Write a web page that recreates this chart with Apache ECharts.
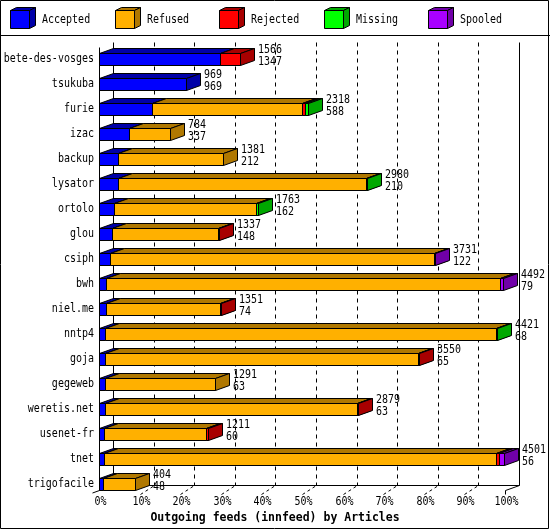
<!DOCTYPE html>
<html><head><meta charset="utf-8">
<script src="https://cdn.jsdelivr.net/npm/echarts@6/dist/echarts.min.js"></script>
<style>html,body{margin:0;padding:0;background:#fff}#c{width:550px;height:530px}</style>
</head><body><div id="c"></div>
<script>
const categories = ['bete-des-vosges','tsukuba','furie','izac','backup','lysator','ortolo','glou','csiph','bwh','niel.me','nntp4','goja','gegeweb','weretis.net','usenet-fr','tnet','trigofacile'];
const totals   = [1566, 969, 2318, 784, 1381, 2980, 1763, 1337, 3731, 4492, 1351, 4421, 3550, 1291, 2879, 1211, 4501, 404];
const accepted = [1347, 969,  588, 337,  212,  210,  162,  148,  122,   79,   74,   68,   65,   63,   63,   60,   56,  48];
const refused  = [   0,   0, 1670, 447, 1169, 2752, 1581, 1177, 3599, 4376, 1266, 4338, 3477, 1228, 2808, 1133, 4350, 356];
const rejected = [ 219,   0,   25,   0,    0,    0,    0,   12,    0,    0,   11,    0,    8,    0,    8,   18,   40,   0];
const missing  = [   0,   0,   35,   0,    0,   18,   20,    0,    0,    0,    0,   15,    0,    0,    0,    0,    0,   0];
const spooled  = [   0,   0,    0,   0,    0,    0,    0,    0,   10,   37,    0,    0,    0,    0,    0,    0,   55,   0];
const seriesNames = ['Accepted','Refused','Rejected','Missing','Spooled'];
const tickLabels = ['0%','10%','20%','30%','40%','50%','60%','70%','80%','90%','100%'];
const axisMax = 4510;
const xTitle = 'Outgoing feeds (innfeed) by Articles';

const frontColors = ['#0000ff','#ffb000','#ff0000','#00ff00','#a800ff'];
const darkColors  = ['#0000a8','#b07800','#a80000','#00a800','#7000a8'];
const DX = 14, DY = -5;
const FONT = '"DejaVu Sans Mono", "Liberation Mono", monospace';
const TS = 1.17; // vertical stretch of the narrow bitmap-like font
const px = v => Math.round(v) + 0.5;

const rows = categories.map((c, i) => [i, accepted[i], refused[i], rejected[i], missing[i], spooled[i], totals[i]]);

function txt(text, x, y, align, extra) {
  return Object.assign({type: 'text', x: x, y: y, scaleY: TS,
    style: {text: text, x: 0, y: 0, align: align, verticalAlign: 'middle', font: '10px ' + FONT, fill: '#000', lineHeight: 9.5}}, extra || {});
}

function barBox(api, i) {
  const yc = api.coord([0, i])[1];
  const yt = Math.round(yc - 6) + 0.5;
  return {yc, yt, yb: yt + 12};
}

function renderBar(params, api) {
  const i = api.value(0);
  const vals = [api.value(1), api.value(2), api.value(3), api.value(4), api.value(5)];
  const {yc, yt, yb} = barBox(api, i);
  let cum = 0;
  const children = [];
  const ln = {stroke: '#000', lineWidth: 1};
  const xl = api.coord([0, i])[0];
  children.push(txt(categories[i], Math.round(xl) - 5, yc, 'right'));
  for (let s = 0; s < 5; s++) {
    const v = vals[s];
    if (!v) continue;
    const x0 = px(api.coord([cum, i])[0]);
    cum += v;
    const x1 = px(api.coord([cum, i])[0]);
    children.push({type: 'polygon', shape: {points: [[x0, yt], [x1, yt], [x1, yb], [x0, yb]]}, style: Object.assign({fill: frontColors[s]}, ln)});
    children.push({type: 'polygon', shape: {points: [[x0, yt], [x0 + DX, yt + DY], [x1 + DX, yt + DY], [x1, yt]]}, style: Object.assign({fill: darkColors[s]}, ln)});
    children.push({type: 'polygon', shape: {points: [[x1, yt], [x1 + DX, yt + DY], [x1 + DX, yb + DY], [x1, yb]]}, style: Object.assign({fill: darkColors[s]}, ln)});
  }
  const total = api.value(6), acc = api.value(1);
  const xe = api.coord([total, i])[0];
  children.push(txt(total + '\n' + acc, Math.round(xe) + 18, yc - 3, 'left'));
  return {type: 'group', children};
}

function renderFrame(params, api) {
  const n = categories.length;
  const band = api.size([0, 1])[1];
  const c0 = api.coord([0, 0]);
  const top = Math.round(c0[1] - band / 2) + 0.5;
  const floor = barBox(api, n - 1).yb;
  const xl = px(c0[0]);
  const xr = px(api.coord([axisMax, 0])[0]);
  const ch = [];
  const L = (x1, y1, x2, y2, dash) => ch.push({type: 'line', shape: {x1, y1, x2, y2}, style: {stroke: '#000', lineWidth: 1, lineDash: dash || null}});
  // back walls and floor
  L(xl + DX, top + DY, xl + DX, floor + DY);
  L(xr + DX, top + DY, xr + DX, floor + DY);
  L(xl + DX, floor + DY, xr + DX, floor + DY);
  // dashed grid on back wall + floor ticks + tick labels
  const nt = tickLabels.length - 1;
  for (let k = 0; k <= nt; k++) {
    const xf = px(api.coord([k * axisMax / nt, 0])[0]);
    if (k > 0 && k < nt) L(xf + DX, top + DY, xf + DX, floor + DY, [4, 4]);
    if (k === 0) {
      L(xf - 7, floor + 2.5, xf + DX, floor + DY);
    } else if (k === nt) {
      L(xf, floor, xf + DX, floor + DY);
      L(xf, floor, xf, floor + 4);
    } else {
      L(xf, floor + 4, xf + DX, floor + DY, [3, 3]);
    }
    ch.push(txt(tickLabels[k], xf + 1, floor + 11.5, 'center'));
  }
  // front left axis
  L(xl, top, xl, floor);
  // axis title
  ch.push(txt(xTitle, 275, floor + 27, 'center', {scaleY: 1.1, style: {text: xTitle, x: 0, y: 0, align: 'center', verticalAlign: 'middle', font: 'bold 11.5px ' + FONT, fill: '#000'}}));
  return {type: 'group', children: ch};
}

const graphic = [
  {type: 'rect', shape: {x: 0.5, y: 0.5, width: 548, height: 528}, style: {fill: null, stroke: '#000', lineWidth: 1}},
  {type: 'line', shape: {x1: 0, y1: 35.5, x2: 550, y2: 35.5}, style: {stroke: '#000', lineWidth: 1}}
];
seriesNames.forEach((name, s) => {
  const x = Math.round(10 + s * 104.5) + 0.5, y = 10.5, w = 19, h = 18, dx = 6, dy = -3;
  const st = f => ({fill: f, stroke: '#000', lineWidth: 1});
  graphic.push({type: 'polygon', shape: {points: [[x, y], [x + w, y], [x + w, y + h], [x, y + h]]}, style: st(frontColors[s])});
  graphic.push({type: 'polygon', shape: {points: [[x, y], [x + dx, y + dy], [x + w + dx, y + dy], [x + w, y]]}, style: st(darkColors[s])});
  graphic.push({type: 'polygon', shape: {points: [[x + w, y], [x + w + dx, y + dy], [x + w + dx, y + h + dy], [x + w, y + h]]}, style: st(darkColors[s])});
  graphic.push({type: 'text', x: x + 31.5, y: 20, scaleY: TS, style: {text: name, x: 0, y: 0, font: '10px ' + FONT, fill: '#000', verticalAlign: 'middle', align: 'left'}});
});

const chart = echarts.init(document.getElementById('c'), null, {renderer: 'canvas'});
chart.setOption({
  animation: false,
  backgroundColor: '#fff',
  grid: {left: 99, right: 45, top: 46.5, bottom: 33.5, containLabel: false, outerBoundsMode: 'none'},
  xAxis: {
    type: 'value', min: 0, max: axisMax, interval: axisMax / 10,
    axisLine: {show: false}, axisTick: {show: false}, splitLine: {show: false}, axisLabel: {show: false}
  },
  yAxis: {
    type: 'category', data: categories, inverse: true,
    axisLine: {show: false}, axisTick: {show: false}, splitLine: {show: false}, axisLabel: {show: false}
  },
  graphic: graphic,
  series: [
    {type: 'custom', name: 'frame', z: 1, silent: true, clip: false, renderItem: renderFrame, data: [[0, 0]]},
    {type: 'custom', name: 'bars', z: 2, silent: true, clip: false, renderItem: renderBar, encode: {x: [1, 6], y: 0}, data: rows}
  ]
});
</script></body></html>
